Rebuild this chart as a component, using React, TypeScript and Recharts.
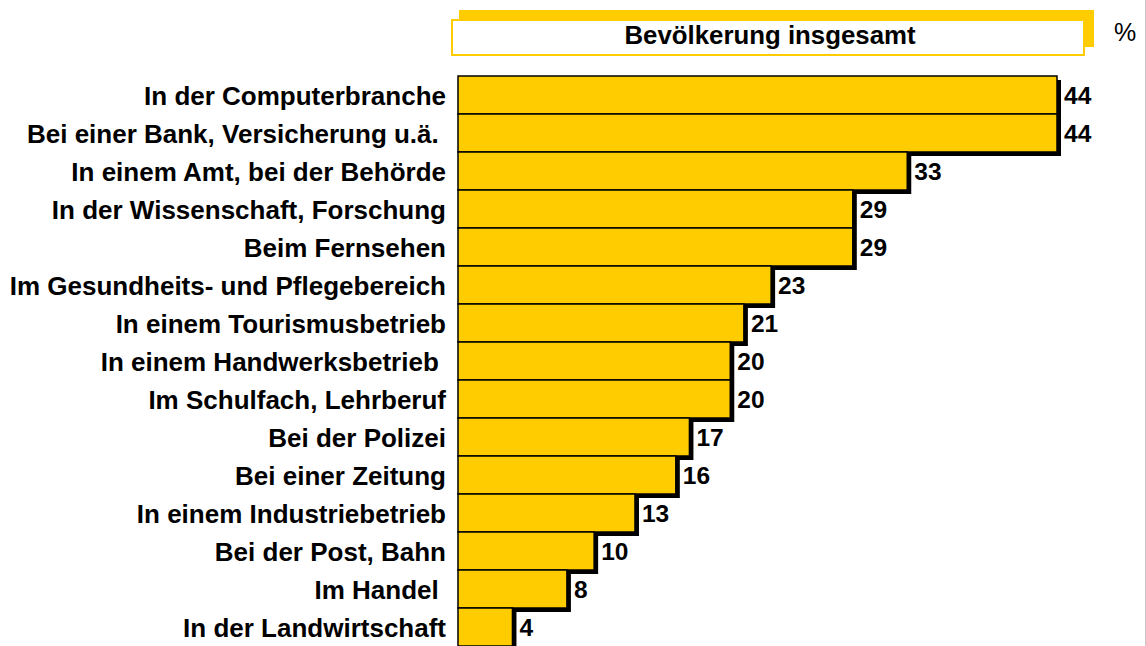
import React from "react";
import { BarChart, Bar, XAxis, YAxis, LabelList } from "recharts";

const categories = [
  "In der Computerbranche",
  "Bei einer Bank, Versicherung u.ä. ",
  "In einem Amt, bei der Behörde",
  "In der Wissenschaft, Forschung",
  "Beim Fernsehen",
  "Im Gesundheits- und Pflegebereich",
  "In einem Tourismusbetrieb",
  "In einem Handwerksbetrieb ",
  "Im Schulfach, Lehrberuf",
  "Bei der Polizei",
  "Bei einer Zeitung",
  "In einem Industriebetrieb",
  "Bei der Post, Bahn",
  "Im Handel ",
  "In der Landwirtschaft",
];
const values = [44, 44, 33, 29, 29, 23, 21, 20, 20, 17, 16, 13, 10, 8, 4];
const headerTitle = "Bevölkerung insgesamt";
const unitLabel = "%";

const data = categories.map((name, i) => ({ name, value: values[i] }));

const FONT = '"Liberation Sans", Arial, Helvetica, sans-serif';
const YELLOW = "#FFCC00";

const BarShape = (props: any) => {
  const { x, y, width, height } = props;
  return (
    <g>
      <rect x={x + 4} y={y + 4} width={width} height={height} fill="#000" />
      <rect x={x} y={y} width={width} height={height} fill={YELLOW} stroke="#000" strokeWidth={1.5} />
    </g>
  );
};

const CatTick = (props: any) => {
  const { x, y, payload } = props;
  return (
    <text
      x={x}
      y={y + 1}
      textAnchor="end"
      dominantBaseline="central"
      fontFamily={FONT}
      fontWeight="bold"
      fontSize={26}
      fill="#000"
      style={{ whiteSpace: "pre" }}
    >
      {payload.value}
    </text>
  );
};

const ValueLabel = (props: any) => {
  const { x, y, width, height, value } = props;
  return (
    <text
      x={x + width + 7}
      y={y + height / 2}
      textAnchor="start"
      dominantBaseline="central"
      fontFamily={FONT}
      fontWeight="bold"
      fontSize={24.5}
      fill="#000"
    >
      {value}
    </text>
  );
};

export default function App() {
  return (
    <div style={{ position: "absolute", left: 0, top: 0, width: 1146, height: 646, overflow: "hidden", background: "#fff" }}>
      <BarChart
        width={1146}
        height={650}
        data={data}
        layout="vertical"
        margin={{ top: 76, right: 89, bottom: 4, left: 0 }}
        barCategoryGap={0}
      >
        <XAxis type="number" domain={[0, 44]} hide />
        <YAxis
          type="category"
          dataKey="name"
          width={458}
          axisLine={false}
          tickLine={false}
          tickSize={0}
          tickMargin={12}
          interval={0}
          tick={<CatTick />}
        />
        <Bar dataKey="value" isAnimationActive={false} shape={<BarShape />}>
          <LabelList dataKey="value" content={<ValueLabel />} />
        </Bar>
      </BarChart>
      <svg width={1146} height={646} style={{ position: "absolute", left: 0, top: 0, pointerEvents: "none" }}>
        <rect x={459} y={10} width={635} height={37} fill={YELLOW} />
        <rect x={452} y={20} width={632} height={35} fill="#fff" stroke={YELLOW} strokeWidth={2} />
        <text x={770} y={44} textAnchor="middle" fontFamily={FONT} fontWeight="bold" fontSize={25.8} fill="#000">
          {headerTitle}
        </text>
        <text x={1114} y={41} textAnchor="start" fontFamily={FONT} fontSize={25} fill="#000">
          {unitLabel}
        </text>
        <line x1={1145.5} y1={0} x2={1145.5} y2={646} stroke="#c8c8c8" strokeWidth={1} />
      </svg>
    </div>
  );
}
